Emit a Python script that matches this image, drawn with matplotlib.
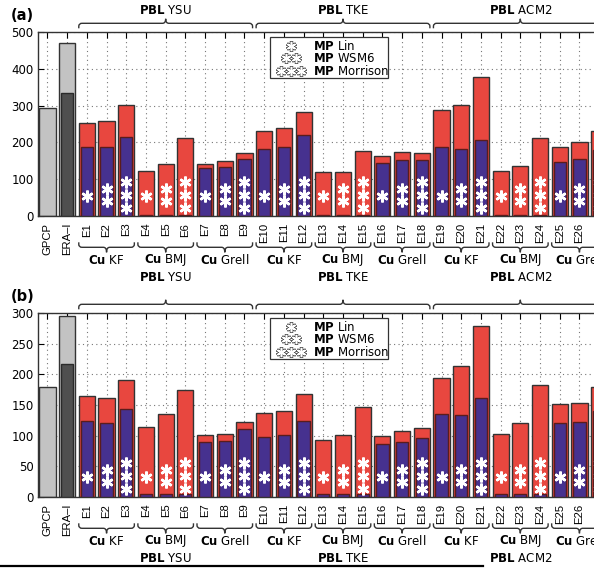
import numpy as np
import matplotlib
matplotlib.use('Agg')
import matplotlib.pyplot as plt
from matplotlib.path import Path
from matplotlib.patches import PathPatch, Rectangle
from matplotlib.lines import Line2D
import matplotlib.transforms as mtransforms

plt.rcParams['font.family'] = ['DejaVu Sans']
plt.rcParams['mathtext.fontset'] = 'dejavusans'

# ---- data ----
labels = ['GPCP', 'ERA\u2013I'] + ['E%d' % i for i in range(1, 28)]
cu_names = ['KF', 'BMJ', 'Grell']
pbl_names = ['YSU', 'TKE', 'ACM2']
mp_names = ['Lin', 'WSM6', 'Morrison']

gpcp_a = 293
era_a = 470
era_dark_a = 335
red_a = [254, 257, 303, 123, 140, 212, 142, 148, 171,
         231, 238, 282, 120, 118, 177, 164, 173, 170,
         288, 301, 378, 122, 136, 213, 186, 200, 230]
blue_a = [188, 187, 215, 3, 3, 3, 129, 133, 155,
          183, 186, 220, 3, 3, 3, 145, 152, 151,
          186, 183, 207, 3, 3, 3, 147, 154, 180]

gpcp_b = 179
era_b = 295
era_dark_b = 217
red_b = [164, 162, 191, 114, 136, 174, 101, 103, 123,
         137, 140, 168, 92, 101, 146, 100, 107, 112,
         194, 213, 279, 102, 121, 183, 152, 153, 180]
blue_b = [124, 120, 143, 5, 5, 5, 90, 91, 111,
          98, 101, 124, 5, 5, 5, 87, 90, 96,
          136, 134, 162, 5, 5, 5, 120, 122, 140]

RED = '#e8473f'
BLUE = '#46318f'
LGRAY = '#c3c3c3'
DGRAY = '#4f4f4f'
EDGE = '#333333'

W = 594
H = 569
fig = plt.figure(figsize=(W / 100, H / 100), dpi=100)

AX_H_PX = 183.4
ax_a = fig.add_axes([37.6 / W, 1 - 215.7 / H, 571.4 / W, AX_H_PX / H])
ax_b = fig.add_axes([37.6 / W, 1 - 496.7 / H, 571.4 / W, AX_H_PX / H])

FS = 8.5
WIDE = 0.82
NARROW = 0.62
STAR = (6, 2, 0)


def px(p):
    # pixel offset -> axes fraction
    return p / AX_H_PX


def brace(ax, x0, x1, y_end, y_h, y_tip):
    tr = mtransforms.blended_transform_factory(ax.transData, ax.transAxes)
    rx = 0.16
    ry = np.sign(y_end - y_h) * px(3)
    xm = (x0 + x1) / 2
    verts = [(x0, y_end), (x0, y_h + ry), (x0, y_h), (x0 + rx, y_h),
             (xm - rx, y_h), (xm, y_h), (xm, y_tip),
             (xm, y_h), (xm + rx, y_h),
             (x1 - rx, y_h), (x1, y_h), (x1, y_h + ry), (x1, y_end)]
    codes = [Path.MOVETO, Path.LINETO, Path.CURVE3, Path.CURVE3,
             Path.LINETO, Path.CURVE3, Path.CURVE3,
             Path.CURVE3, Path.CURVE3,
             Path.LINETO, Path.CURVE3, Path.CURVE3, Path.LINETO]
    ax.add_patch(PathPatch(Path(verts, codes), transform=tr, fill=False,
                           lw=1.0, edgecolor=EDGE, clip_on=False))


def draw_panel(ax, gpcp, era, era_dark, red, blue, ymax, ystep, top_text):
    x = np.arange(1, 30)
    xe = x[2:]
    ax.bar(1, gpcp, width=WIDE, color=LGRAY, edgecolor=EDGE, lw=1, zorder=2)
    ax.bar(2, era, width=WIDE, color=LGRAY, edgecolor=EDGE, lw=1, zorder=2)
    ax.bar(2, era_dark, width=NARROW, color=DGRAY, edgecolor='#2a2a2a', lw=1, zorder=3)
    ax.bar(xe, red, width=WIDE, color=RED, edgecolor=EDGE, lw=1, zorder=2)
    ax.bar(xe, blue, width=NARROW, color=BLUE, edgecolor='#5a1c1c', lw=1, zorder=3)

    # microphysics stars inside bars
    tr = mtransforms.blended_transform_factory(ax.transData, ax.transAxes)
    star_y = {1: [20], 2: [26.7, 14.7], 3: [33.4, 20.7, 8]}
    for i, xi in enumerate(xe):
        for yy in star_y[i % 3 + 1]:
            ax.plot(xi, px(yy), marker=STAR, ms=8.5, mew=1.8, color='white',
                    transform=tr, zorder=4, clip_on=False)

    ax.set_xlim(0.5, 29.5)
    ax.set_ylim(0, ymax)
    ax.set_yticks(np.arange(0, ymax + 1, ystep))
    ax.set_xticks(x)
    ax.set_xticklabels(labels, rotation=90, fontsize=8.1, family='Liberation Sans')
    ax.tick_params(axis='y', labelsize=FS, direction='in', length=4, pad=3)
    ax.tick_params(axis='x', direction='in', length=4, top=True, pad=5)
    ax.grid(True, ls=(0, (1, 3)), color='#777777', lw=0.8)
    ax.set_axisbelow(True)
    for s in ax.spines.values():
        s.set_color(EDGE)
        s.set_linewidth(1.0)

    # legend box
    ax.add_patch(Rectangle((12.29, 0.751), 18.28 - 12.29, 0.974 - 0.751,
                           transform=tr, facecolor='white', edgecolor=EDGE,
                           lw=0.9, zorder=5))
    rows_y = [0.927, 0.858, 0.789]
    for k, (yy, name) in enumerate(zip(rows_y, mp_names)):
        n = k + 1
        xs = 13.36 + (np.arange(n) - (n - 1) / 2) * 0.5
        for xx in xs:
            ax.plot(xx, yy, marker=STAR, ms=7.5, mew=2.4, color='#555555',
                    transform=tr, zorder=6)
            ax.plot(xx, yy, marker=STAR, ms=6.6, mew=1.1, color='white',
                    transform=tr, zorder=7)
        ax.text(14.48, yy, r'$\mathbf{MP}$ ' + name, transform=tr, fontsize=FS,
                ha='left', va='center', zorder=7)

    # Cu braces below
    for g in range(9):
        x0 = 3 + 3 * g - 0.41
        x1 = 5 + 3 * g + 0.41
        brace(ax, x0, x1, -px(26.6), -px(31.6), -px(36.6))
        ax.text((x0 + x1) / 2, -px(44.5), r'$\mathbf{Cu}$ ' + cu_names[g % 3],
                transform=tr, fontsize=FS, ha='center', va='center', clip_on=False)
    # PBL braces on top, PBL labels below
    for g in range(3):
        x0 = 3 + 9 * g - 0.41
        x1 = 11 + 9 * g + 0.41
        brace(ax, x0, x1, 1 + px(4), 1 + px(9), 1 + px(13.5))
        xm = (x0 + x1) / 2
        ax.text(xm, -px(62), r'$\mathbf{PBL}$ ' + pbl_names[g], transform=tr,
                fontsize=FS, ha='center', va='center', clip_on=False)
        if top_text:
            ax.text(xm, 1 + px(21.3), r'$\mathbf{PBL}$ ' + pbl_names[g], transform=tr,
                    fontsize=FS, ha='center', va='center', clip_on=False)


draw_panel(ax_a, gpcp_a, era_a, era_dark_a, red_a, blue_a, 500, 100, True)
draw_panel(ax_b, gpcp_b, era_b, era_dark_b, red_b, blue_b, 300, 50, False)

fig.text(11 / W, 1 - 15 / H, '(a)', fontsize=10.5, fontweight='bold', va='center')
fig.text(11 / W, 1 - 296.7 / H, '(b)', fontsize=10.5, fontweight='bold', va='center')

fig.add_artist(Line2D([0, 483 / W], [1 - 566 / H, 1 - 566 / H], color='black', lw=1.6))

fig.savefig('out.png', dpi=100)
